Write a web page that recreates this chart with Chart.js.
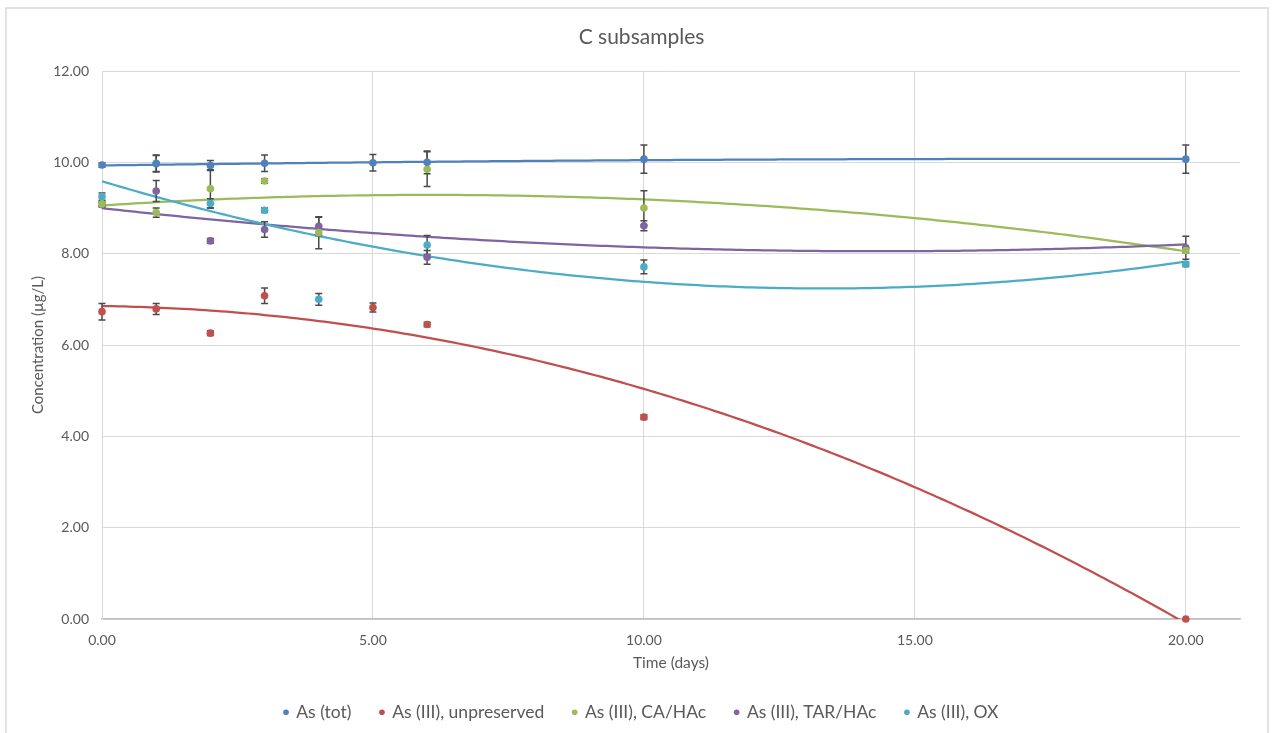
<!DOCTYPE html>
<html>
<head>
<meta charset="utf-8">
<title>C subsamples</title>
<script src="https://cdn.jsdelivr.net/npm/chart.js@4/dist/chart.umd.min.js"></script>
<style>
  html, body { margin: 0; padding: 0; background: #ffffff; }
  canvas { display: block; }
</style>
</head>
<body>
<canvas id="chart" width="1275" height="733"></canvas>
<script>
// Sampling days
const daysTot = [0, 1, 2, 3, 5, 6, 10, 20];
const daysUnp = [0, 1, 2, 3, 5, 6, 10, 20];
const daysPres = [0, 1, 2, 3, 4, 6, 10, 20];

// Measured concentrations (µg/L) and their error bar half-widths
const asTot = [9.94, 9.97, 9.93, 9.98, 9.99, 10.00, 10.07, 10.07];
const asTotErr = [0.05, 0.18, 0.11, 0.18, 0.18, 0.25, 0.31, 0.31];

const asUnp = [6.73, 6.79, 6.26, 7.08, 6.82, 6.45, 4.42, 0.00];
const asUnpErr = [0.18, 0.12, 0.05, 0.17, 0.10, 0.05, 0.05, 0.00];

const asCa = [9.09, 8.90, 9.42, 9.59, 8.46, 9.85, 9.00, 8.07];
const asCaErr = [0.05, 0.10, 0.42, 0.05, 0.35, 0.38, 0.38, 0.05];

const asTar = [9.07, 9.37, 8.28, 8.53, 8.60, 7.92, 8.61, 8.13];
const asTarErr = [0.05, 0.23, 0.05, 0.17, 0.20, 0.15, 0.11, 0.25];

const asOx = [9.25, 9.98, 9.10, 8.95, 7.00, 8.19, 7.71, 7.77];
const asOxErr = [0.08, 0.18, 0.10, 0.05, 0.13, 0.21, 0.15, 0.05];

const seriesNames = ['As (tot)', 'As (III), unpreserved', 'As (III), CA/HAc', 'As (III), TAR/HAc', 'As (III), OX'];
const seriesColors = ['#4F81BD', '#C0504D', '#9BBB59', '#8064A2', '#4BACC6'];

const seriesX = [daysTot, daysUnp, daysPres, daysPres, daysPres];
const seriesY = [asTot, asUnp, asCa, asTar, asOx];
const seriesErr = [asTotErr, asUnpErr, asCaErr, asTarErr, asOxErr];

const TEXT = '#595959';
const GRID = '#D9D9D9';

Chart.defaults.font.family = 'Lato, "Open Sans", sans-serif';
Chart.defaults.color = TEXT;

// Second-order least-squares fit of y on x: returns [a, b, c] for a + b x + c x^2
function quadFit(xs, ys) {
  let s = [0, 0, 0, 0, 0], t = [0, 0, 0];
  for (let i = 0; i < xs.length; i++) {
    const x = xs[i], y = ys[i];
    let p = 1;
    for (let k = 0; k < 5; k++) { s[k] += p; if (k < 3) t[k] += p * y; p *= x; }
  }
  const m = [
    [s[0], s[1], s[2], t[0]],
    [s[1], s[2], s[3], t[1]],
    [s[2], s[3], s[4], t[2]]
  ];
  for (let c = 0; c < 3; c++) {
    let piv = c;
    for (let r = c + 1; r < 3; r++) if (Math.abs(m[r][c]) > Math.abs(m[piv][c])) piv = r;
    [m[c], m[piv]] = [m[piv], m[c]];
    for (let r = 0; r < 3; r++) {
      if (r === c) continue;
      const f = m[r][c] / m[c][c];
      for (let k = c; k < 4; k++) m[r][k] -= f * m[c][k];
    }
  }
  return [m[0][3] / m[0][0], m[1][3] / m[1][1], m[2][3] / m[2][2]];
}

// Polynomial trendlines, stroked through the chart's own scales
const trendlinePlugin = {
  id: 'trendlines',
  beforeDatasetsDraw(chart) {
    const {ctx, chartArea, scales: {x, y}} = chart;
    ctx.save();
    ctx.beginPath();
    ctx.rect(chartArea.left, chartArea.top, chartArea.right - chartArea.left, chartArea.bottom - chartArea.top);
    ctx.clip();
    chart.data.datasets.forEach((ds, i) => {
      const xs = seriesX[i], ys = seriesY[i];
      const [a, b, c] = quadFit(xs, ys);
      const x0 = Math.min(...xs), x1 = Math.max(...xs);
      ctx.beginPath();
      const steps = 200;
      for (let k = 0; k <= steps; k++) {
        const xv = x0 + (x1 - x0) * k / steps;
        const yv = a + b * xv + c * xv * xv;
        const px = x.getPixelForValue(xv), py = y.getPixelForValue(yv);
        if (k === 0) ctx.moveTo(px, py); else ctx.lineTo(px, py);
      }
      ctx.strokeStyle = ds.borderColor;
      ctx.lineWidth = 2.25;
      ctx.lineJoin = 'round';
      ctx.stroke();
    });
    ctx.restore();
  }
};

// Vertical error bars with caps
const errorBarPlugin = {
  id: 'errorBars',
  beforeDatasetsDraw(chart) {
    const {ctx, scales: {x, y}} = chart;
    ctx.save();
    ctx.strokeStyle = '#4A4A4A';
    ctx.lineWidth = 1.5;
    chart.data.datasets.forEach((ds, i) => {
      const xs = seriesX[i], ys = seriesY[i], es = seriesErr[i];
      xs.forEach((xv, j) => {
        const e = es[j];
        if (!e) return;
        const px = x.getPixelForValue(xv);
        const top = y.getPixelForValue(ys[j] + e);
        const bot = y.getPixelForValue(ys[j] - e);
        ctx.beginPath();
        ctx.moveTo(px, top); ctx.lineTo(px, bot);
        ctx.moveTo(px - 3.5, top); ctx.lineTo(px + 3.5, top);
        ctx.moveTo(px - 3.5, bot); ctx.lineTo(px + 3.5, bot);
        ctx.stroke();
      });
    });
    ctx.restore();
  }
};

// Light frame around the whole chart object
const framePlugin = {
  id: 'frame',
  beforeDraw(chart) {
    const {ctx} = chart;
    ctx.save();
    ctx.fillStyle = '#ffffff';
    ctx.fillRect(0, 0, chart.width, chart.height);
    ctx.strokeStyle = GRID;
    ctx.lineWidth = 1.5;
    ctx.beginPath();
    ctx.moveTo(6, 740); ctx.lineTo(6, 8); ctx.lineTo(1268, 8); ctx.lineTo(1268, 740);
    ctx.stroke();
    ctx.restore();
  }
};

const datasets = seriesNames.map((name, i) => ({
  label: name,
  data: seriesX[i].map((xv, j) => ({x: xv, y: seriesY[i][j]})),
  backgroundColor: seriesColors[i],
  borderColor: seriesColors[i],
  borderWidth: 0,
  pointRadius: 3.8,
  pointHoverRadius: 3.8,
  pointStyle: 'circle',
  showLine: false,
  clip: false
}));

new Chart(document.getElementById('chart'), {
  type: 'scatter',
  data: {datasets},
  plugins: [framePlugin, trendlinePlugin, errorBarPlugin],
  options: {
    responsive: false,
    devicePixelRatio: 1,
    animation: false,
    layout: {padding: {left: 8, right: 0, top: 8, bottom: 2}},
    plugins: {
      tooltip: {enabled: false},
      title: {
        display: true,
        text: 'C subsamples',
        color: TEXT,
        font: {size: 21, weight: 'normal'},
        padding: {top: 16.4, bottom: 21.4}
      },
      legend: {
        position: 'bottom',
        labels: {
          color: TEXT,
          font: {size: 17.5},
          usePointStyle: true,
          pointStyle: 'circle',
          boxWidth: 3,
          boxHeight: 4,
          padding: 29
        }
      }
    },
    scales: {
      x: {
        type: 'linear',
        min: 0,
        max: 21,
        afterFit(scale) { scale.height = 55.5; },
        afterBuildTicks(scale) { scale.ticks = scale.ticks.filter(t => t.value % 5 === 0); },
        ticks: {
          stepSize: 5,
          padding: 13,
          color: TEXT,
          font: {size: 14},
          callback: v => Number(v).toFixed(2)
        },
        grid: {color: GRID, lineWidth: 1, drawTicks: false},
        border: {color: '#BFBFBF', width: 1.5},
        title: {
          display: true,
          text: 'Time (days)',
          color: TEXT,
          font: {size: 15.5},
          padding: {top: 0, bottom: 2.5}
        }
      },
      y: {
        min: 0,
        max: 12,
        afterFit(scale) { scale.width = 94; },
        ticks: {
          stepSize: 2,
          padding: 13,
          color: TEXT,
          font: {size: 14},
          callback: v => Number(v).toFixed(2)
        },
        grid: {color: GRID, lineWidth: 1, drawTicks: false},
        border: {color: GRID, width: 1},
        title: {
          display: true,
          text: 'Concentration (µg/L)',
          color: TEXT,
          font: {size: 15},
          padding: {top: 21, bottom: 0}
        }
      },
      yRight: {
        position: 'right',
        min: 0,
        max: 1,
        afterFit(scale) { scale.width = 35; },
        ticks: {display: false},
        grid: {display: false, drawTicks: false},
        border: {display: false}
      }
    }
  }
});
</script>
</body>
</html>
